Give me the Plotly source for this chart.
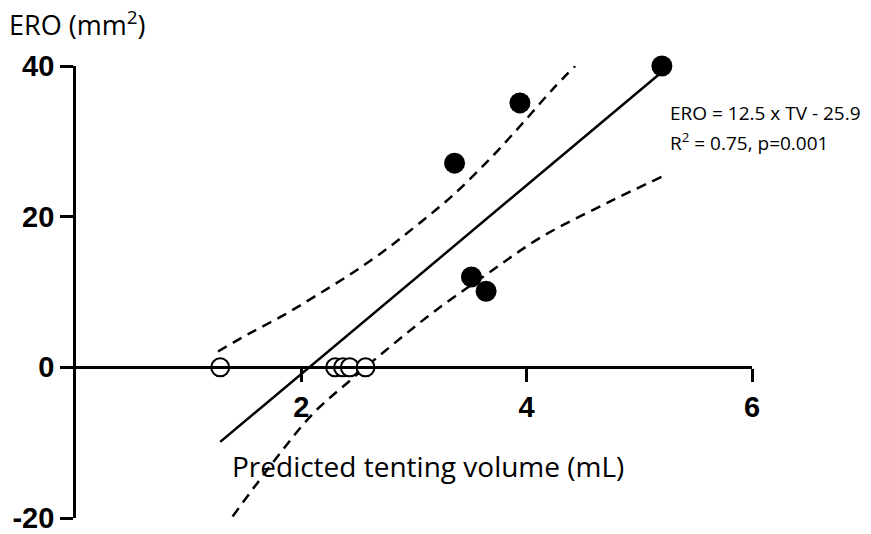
import plotly.graph_objects as go

# Data
filled_tv = [3.36, 3.94, 5.20, 3.51, 3.64]
filled_ero = [27.1, 35.1, 40.0, 12.0, 10.1]
open_tv = [1.28, 2.30, 2.37, 2.43, 2.57]
open_ero = [0, 0, 0, 0, 0]

fit_tv = [1.28, 5.20]
fit_ero = [-9.9, 39.2]

upper_tv = [1.26, 1.54, 1.84, 2.13, 2.43, 2.73, 3.02, 3.32, 3.65, 3.94, 4.23, 4.43]
upper_ero = [2.1, 4.5, 6.9, 9.5, 12.3, 15.4, 18.8, 22.5, 27.3, 32.0, 36.9, 40.0]
lower_tv = [1.39, 1.75, 2.10, 2.46, 2.81, 3.17, 3.64, 4.12, 4.71, 5.20]
lower_ero = [-19.8, -12.6, -6.2, -1.4, 3.0, 7.3, 12.3, 17.2, 21.8, 25.3]

x_ticks = [2, 4, 6]
y_ticks = [-20, 0, 20, 40]
y_tick_labels = ["-20", "0", "20", "40"]

TEXT_FONT = "Open Sans"
TICK_FONT = "Liberation Sans"

fig = go.Figure()
dash_style = dict(color="black", width=2.5, dash="10px,7px")
fig.add_trace(go.Scatter(x=upper_tv, y=upper_ero, mode="lines", line=dict(shape="spline", **dash_style),
                         hoverinfo="skip", cliponaxis=False))
fig.add_trace(go.Scatter(x=lower_tv, y=lower_ero, mode="lines", line=dict(shape="spline", **dash_style),
                         hoverinfo="skip", cliponaxis=False))
fig.add_trace(go.Scatter(x=fit_tv, y=fit_ero, mode="lines", line=dict(color="black", width=2.5),
                         cliponaxis=False))
fig.add_trace(go.Scatter(x=open_tv, y=open_ero, mode="markers",
                         marker=dict(size=18, color="white", line=dict(color="black", width=2)),
                         cliponaxis=False))
fig.add_trace(go.Scatter(x=filled_tv, y=filled_ero, mode="markers",
                         marker=dict(size=21, color="black", line=dict(color="black", width=0)),
                         cliponaxis=False))

fig.update_layout(
    width=871, height=534,
    margin=dict(l=76, r=119, t=66, b=16, autoexpand=False),
    paper_bgcolor="white", plot_bgcolor="white",
    showlegend=False,
    xaxis=dict(range=[0, 6], tickvals=x_ticks, ticks="outside", ticklen=13, tickwidth=2.5,
               tickcolor="black", showline=True, linecolor="black", linewidth=2.7,
               showgrid=False, zeroline=False, anchor="free", position=1/3,
               ticklabeloverflow="allow", automargin=False,
               tickfont=dict(family=TICK_FONT, size=29, color="black", weight="bold")),
    yaxis=dict(range=[-20, 40], tickvals=y_ticks, ticktext=y_tick_labels, ticks="outside",
               ticklen=13, tickwidth=2.5,
               tickcolor="black", showline=True, linecolor="black", linewidth=2.7,
               showgrid=False, zeroline=False, ticklabeloverflow="allow", automargin=False,
               tickfont=dict(family=TICK_FONT, size=29, color="black", weight="bold")),
    annotations=[
        dict(text="ERO (mm<sup>2</sup>)", xref="paper", yref="paper", x=-76/676, y=1 + (66 - 24) / 452,
             xanchor="left", yanchor="middle", showarrow=False, xshift=7,
             font=dict(family=TEXT_FONT, size=27, color="black")),
        dict(text="Predicted tenting volume (mL)", x=(427.5 - 76) / 676, y=(518 - 466) / 452,
             xref="paper", yref="paper", xanchor="center", yanchor="middle", showarrow=False,
             font=dict(family=TEXT_FONT, size=28, color="black")),
        dict(text="ERO = 12.5 x TV - 25.9", x=(668 - 76) / 676, y=(518 - 113) / 452,
             xref="paper", yref="paper", xanchor="left", yanchor="middle", showarrow=False,
             font=dict(family=TEXT_FONT, size=19, color="black")),
        dict(text="R<sup>2</sup> = 0.75, p=0.001", x=(668 - 76) / 676, y=(518 - 142) / 452,
             xref="paper", yref="paper", xanchor="left", yanchor="middle", showarrow=False,
             font=dict(family=TEXT_FONT, size=19, color="black")),
    ],
)

fig.write_html("out.html")
